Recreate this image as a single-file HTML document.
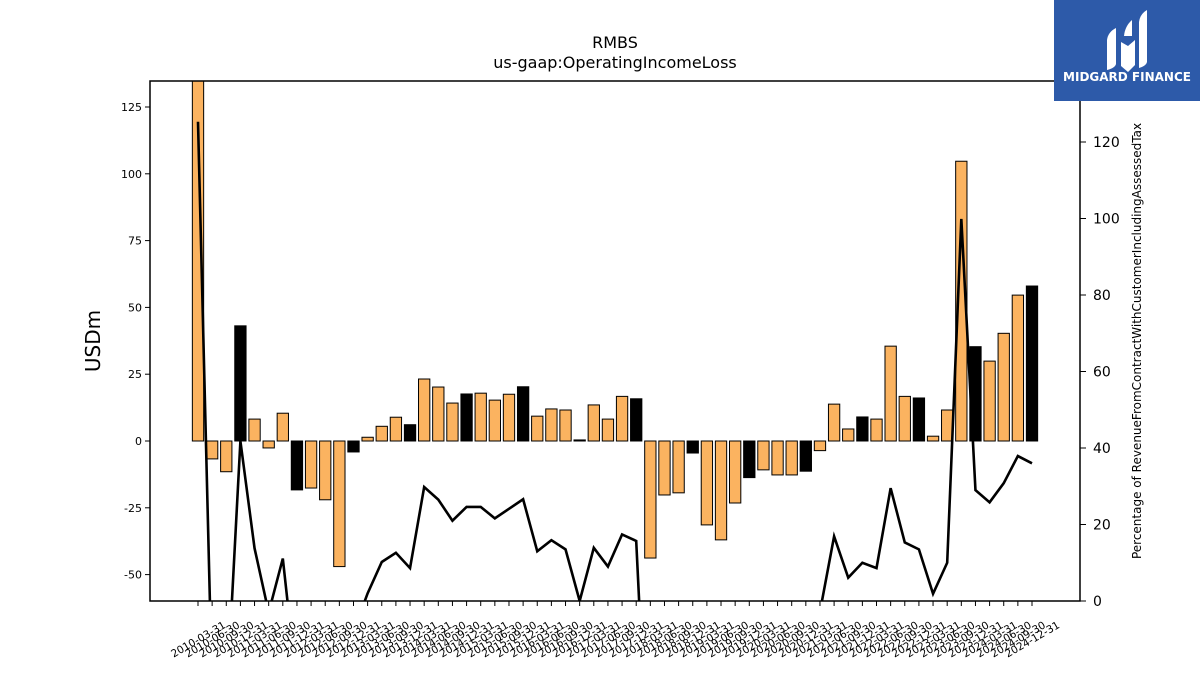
<!DOCTYPE html>
<html><head><meta charset="utf-8"><style>
body{margin:0;background:#fff;overflow:hidden;}
svg{display:block;font-family:"DejaVu Sans","Liberation Sans",sans-serif;}
</style></head><body>
<svg id="chart" width="1200" height="675" xmlns="http://www.w3.org/2000/svg">
<defs><clipPath id="plotclip"><rect x="150" y="81" width="930" height="520"/></clipPath></defs>
<text x="615" y="48" text-anchor="middle" font-size="16">RMBS</text>
<text x="615" y="68" text-anchor="middle" font-size="16">us-gaap:OperatingIncomeLoss</text>
<g id="bars" clip-path="url(#plotclip)"></g>
<g id="line" clip-path="url(#plotclip)"></g>
<rect x="150" y="81" width="930" height="520" fill="none" stroke="#000" stroke-width="1.5"/>
<g id="yleft"></g>
<g id="yright"></g>
<g id="xaxis"></g>
<text transform="translate(100,341) rotate(-90)" text-anchor="middle" font-size="20">USDm</text>
<text transform="translate(1141,341) rotate(-90)" text-anchor="middle" font-size="12">Percentage of RevenueFromContractWithCustomerIncludingAssessedTax</text>
<g>
<rect x="1054" y="0" width="146" height="101" fill="#2d5aa9"/>
<path d="M1107 70 L1107 40 Q1108 32 1116 28 L1116 64 Q1115 68 1107 70 Z" fill="#fff"/>
<path d="M1121 52 L1121 42 L1128 46 L1135 40 L1135 65 L1128 72 L1121 66 Z" fill="#fff"/>
<path d="M1124 36 Q1125 26 1132 20 L1132 36 Z" fill="#fff"/>
<path d="M1139 68 L1139 22 Q1140 14 1147 10 L1147 62 Q1146 66 1139 68 Z" fill="#fff"/>
<text x="1127" y="81" text-anchor="middle" font-size="12" font-weight="bold" fill="#fff">MIDGARD FINANCE</text>
</g>
</svg>
<script>
const categories = [];
for (let y = 2010; y <= 2024; y++) { for (const q of ["03-31","06-30","09-30","12-31"]) categories.push(y + "-" + q); }
const operatingIncome = [140,-6.7,-11.5,43.1,8.2,-2.6,10.4,-18.3,-17.6,-22,-47,-4.1,1.4,5.5,8.9,6.1,23.2,20.2,14.2,17.6,17.9,15.3,17.5,20.3,9.3,12.0,11.6,0.4,13.5,8.2,16.7,15.8,-43.8,-20.2,-19.4,-4.5,-31.4,-37,-23.2,-13.7,-10.8,-12.7,-12.7,-11.3,-3.6,13.8,4.5,9,8.2,35.5,16.7,16.1,1.8,11.6,104.7,35.3,29.9,40.3,54.6,58];
const revenuePct = [125.3,-23.6,-27.9,41.8,13.8,-3,11.1,-22.6,-20,-20,-20,-8,2,10.2,12.6,8.6,29.8,26.5,21,24.6,24.6,21.6,24.1,26.6,13,15.9,13.5,0,13.9,9,17.4,15.7,-60,-20,-20,-20,-20,-20,-20,-20,-20,-20,-20,-20,-2.8,16.9,6.1,10,8.6,29.5,15.3,13.5,1.9,10,99.9,29,25.8,30.8,37.9,36];
const leftTicks = [-50,-25,0,25,50,75,100,125];
const rightTicks = [0,20,40,60,80,100,120];

const NS = "http://www.w3.org/2000/svg";
const yL = v => 441 - v * 2.672;
const yR = v => 601 - v * 3.825;
const xC = i => 198 + i * (1032 - 198) / (categories.length - 1);
const step = (1032 - 198) / (categories.length - 1);
function mk(tag, attrs, parent) { const e = document.createElementNS(NS, tag); for (const k in attrs) e.setAttribute(k, attrs[k]); parent.appendChild(e); return e; }

const gb = document.getElementById("bars");
operatingIncome.forEach((v, i) => {
  const annual = i % 4 === 3;
  const y0 = yL(0), y1 = yL(v);
  const r = mk("rect", {x: xC(i) - step * 0.4, y: Math.min(y0, y1), width: step * 0.8, height: Math.max(Math.abs(y1 - y0), 0.8), fill: annual ? "#000" : "#fbb360", stroke: "#000", "stroke-width": 1}, gb);
  
  
});
const gl = document.getElementById("line");
const p = mk("polyline", {points: revenuePct.map((v, i) => xC(i) + "," + yR(v)).join(" "), fill: "none", stroke: "#000", "stroke-width": 2.6, "stroke-linejoin": "miter"}, gl);



const gyl = document.getElementById("yleft");
leftTicks.forEach(t => {
  const ln = mk("line", {x1: 145, x2: 150, y1: yL(t), y2: yL(t), stroke: "#000"}, gyl);
  
  
  const tx = mk("text", {x: 142, y: yL(t) + 4, "text-anchor": "end", "font-size": 11}, gyl);
  tx.textContent = t;
  
  
});
const gyr = document.getElementById("yright");
rightTicks.forEach(t => {
  const ln = mk("line", {x1: 1080, x2: 1086, y1: yR(t), y2: yR(t), stroke: "#000"}, gyr);
  
  
  const tx = mk("text", {x: 1093, y: yR(t) + 5, "font-size": 14}, gyr);
  tx.textContent = t;
  
  
});
const gx = document.getElementById("xaxis");
categories.forEach((c, i) => {
  const ln = mk("line", {x1: xC(i), x2: xC(i), y1: 601, y2: 606, stroke: "#000"}, gx);
  
  
  const tx = mk("text", {transform: "translate(" + xC(i) + ",639) rotate(-30)", "text-anchor": "middle", dy: "4", "font-size": 10.5}, gx);
  tx.textContent = c;
  
  
});
</script>
</body></html>
